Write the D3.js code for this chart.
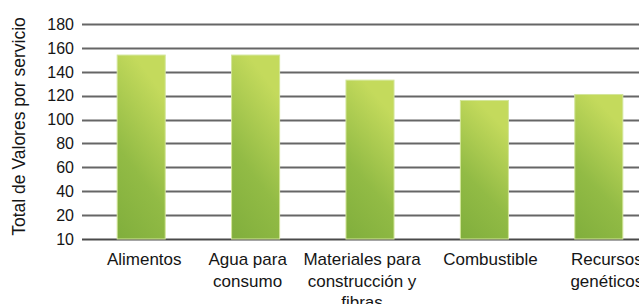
<!DOCTYPE html>
<html>
<head>
    <meta charset="utf-8">
    <script src="https://cdn.jsdelivr.net/npm/d3@7"></script>
    <style>
        body { margin: 0; background: #fff; }
        text { font-family: "Liberation Sans", Arial, sans-serif; fill: #151515; }
    </style>
</head>
<body>
    <div id="chart"></div>
    <script>

        // servicios y totales
        let categories = [
            ["Alimentos"],
            ["Agua para", "consumo"],
            ["Materiales para", "construcción y", "fibras"],
            ["Combustible"],
            ["Recursos", "genéticos"]
        ];
        let values = [154, 154, 133, 116, 121];
        let tickValues = [0, 20, 40, 60, 80, 100, 120, 140, 160, 180];
        let tickLabels = ["10", "20", "40", "60", "80", "100", "120", "140", "160", "180"];
        let yTitle = "Total de Valores por servicio";

        let width = 639, height = 304;
        // the labels are not quite centred under the bars in the original
        let labelShift = [3, -8, -8, 6, 8];

        let svg = d3.select("#chart")
            .append("svg")
            .attr("width", width)
            .attr("height", height);

        let grad = svg.append("defs").append("linearGradient")
            .attr("id", "barGrad")
            .attr("x1", "0").attr("y1", "1")
            .attr("x2", "0.35").attr("y2", "0");
        grad.append("stop").attr("offset", "0%").attr("stop-color", "#80ae3c");
        grad.append("stop").attr("offset", "45%").attr("stop-color", "#92bb45");
        grad.append("stop").attr("offset", "100%").attr("stop-color", "#c4da5c");

        let x = d3.scaleBand()
            .domain(d3.range(categories.length))
            .range([84, 656])
            .paddingInner(0.58)
            .paddingOuter(0.29);

        let y = d3.scaleLinear()
            .domain([0, 180])
            .range([239, 24]);

        // lineas de rejilla
        svg.selectAll("line.grid")
            .data(tickValues)
            .enter()
            .append("line")
            .attr("class", "grid")
            .attr("x1", 82)
            .attr("x2", width)
            .attr("y1", d => Math.round(y(d)) + 0.5)
            .attr("y2", d => Math.round(y(d)) + 0.5)
            .style("stroke", d => d === 0 ? "#4a4a4a" : "#666")
            .style("stroke-width", 2);

        // etiquetas del eje y
        svg.selectAll("text.ytick")
            .data(tickValues)
            .enter()
            .append("text")
            .attr("class", "ytick")
            .attr("x", 74)
            .attr("y", d => y(d))
            .attr("dy", "0.36em")
            .attr("text-anchor", "end")
            .style("font-size", "16px")
            .text((d, i) => tickLabels[i]);

        svg.selectAll("rect.bar")
            .data(values)
            .enter()
            .append("rect")
            .attr("class", "bar")
            .attr("x", (d, i) => x(i))
            .attr("width", x.bandwidth())
            .attr("y", d => y(d))
            .attr("height", d => y(0) - y(d))
            .style("fill", "url(#barGrad)")
            .style("stroke", "#d3e69a")
            .style("stroke-width", 1);

        // etiquetas de categoria
        let labels = svg.selectAll("text.cat")
            .data(categories)
            .enter()
            .append("text")
            .attr("class", "cat")
            .attr("text-anchor", "middle")
            .style("font-size", "17px")
            .attr("transform", (d, i) => `translate(${x(i) + x.bandwidth() / 2 + labelShift[i]},265)`);

        labels.selectAll("tspan")
            .data(d => d)
            .enter()
            .append("tspan")
            .attr("x", 0)
            .attr("y", (d, j) => j * 21.5)
            .text(d => d);

        svg.append("text")
            .attr("transform", "translate(25,126.5) rotate(-90)")
            .attr("text-anchor", "middle")
            .style("font-size", "17.5px")
            .text(yTitle);

    </script>
</body>
</html>
